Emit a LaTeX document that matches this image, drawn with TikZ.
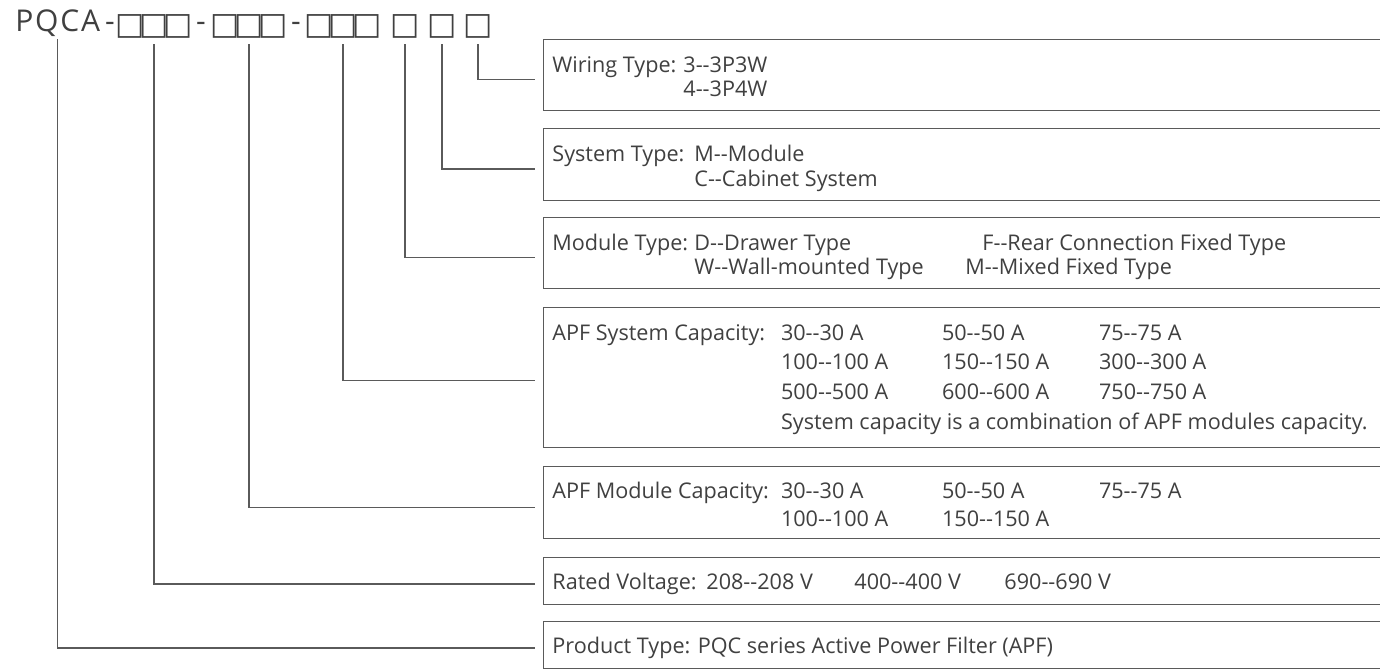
\documentclass[tikz,border=0pt]{standalone}
\usepackage{fontspec}
\setmainfont{Open Sans}
\newfontfamily\symfont{DejaVu Sans}
\usepackage{xcolor}
\usetikzlibrary{positioning,calc}
\definecolor{mygray}{RGB}{64,64,64}
\definecolor{linegray}{RGB}{90,90,90}
\newcommand{\dd}{-\kern0pt-}
\newcommand{\lab}[2]{\makebox[#1][l]{#2}}
\newcommand{\sq}{\makebox[10pt]{□}}
\tikzset{
  basic/.style  = {inner sep=0pt, text=mygray},
  title/.style  = {basic, anchor=base west,
                   font=\fontsize{15}{17}\selectfont\addfontfeatures{LetterSpace=6}},
  hyph/.style   = {basic, anchor=base, font=\fontsize{15}{17}\selectfont},
  digit/.style  = {basic, font=\symfont\fontsize{15.5}{15.5}\selectfont},
  info/.style   = {basic, anchor=base west, font=\fontsize{10.8}{11}\selectfont},
  frame/.style  = {draw=linegray, line width=0.6pt, rectangle, anchor=north west,
                   minimum width=440pt},
  wire/.style   = {draw=linegray, line width=0.65pt, shorten <=3pt, shorten >=8.5pt}
}

\begin{document}
\begin{tikzpicture}[x=0.5pt,y=-0.5pt]
  \path[use as bounding box, fill=white] (0,0) rectangle (1380,669);
  \clip (0,0) rectangle (1380,669);

  \node[title] (pqca) at (15,32) {PQCA};
  \node[hyph] (h1) at (110,32) {-};
  \node[hyph] (h2) at (201,32) {-};
  \node[hyph] (h3) at (296,32) {-};
  \foreach \x [count=\i] in {130,154,178,225,249,273,319,343,367,405,442,478}
    \node[digit] (d\i) at (\x,26) {\sq};

  \node[frame, minimum height=35.5pt]  (f1) at (543,39)    {};
  \node[frame, minimum height=36pt]    (f2) at (543,127.5) {};
  \node[frame, minimum height=35.6pt]  (f3) at (543,216.7) {};
  \node[frame, minimum height=69.75pt] (f4) at (543,307)   {};
  \node[frame, minimum height=36.25pt] (f5) at (543,465.5) {};
  \node[frame, minimum height=23.5pt]  (f6) at (543,557)   {};
  \node[frame, minimum height=23.5pt]  (f7) at (543,621)   {};

  \node[info] (wiring) at (552,72) {\begin{tabular}[t]{@{}l@{}}
    \lab{65.5pt}{Wiring Type:}3\dd3P3W\\[1pt]
    \lab{65.5pt}{}4\dd3P4W\end{tabular}};
  \node[info] (system) at (552,161.7) {\begin{tabular}[t]{@{}l@{}}
    \lab{71pt}{System Type:}M\dd Module\\[0.67pt]
    \lab{71pt}{}C\dd Cabinet System\end{tabular}};
  \node[info] (module) at (552,250) {\begin{tabular}[t]{@{}l@{}}
    \lab{71pt}{Module Type:}\lab{144pt}{D\dd Drawer Type}F\dd Rear Connection Fixed Type\\[0.67pt]
    \lab{71pt}{}\lab{135.5pt}{W\dd Wall-mounted Type}M\dd Mixed Fixed Type\end{tabular}};
  \node[info] (syscap) at (552,340) {\begin{tabular}[t]{@{}l@{}}
    \lab{114.3pt}{APF System Capacity:}\lab{80.5pt}{30\dd30 A}\lab{78.5pt}{50\dd50 A}75\dd75 A\\[3.7pt]
    \lab{114.3pt}{}\lab{80.5pt}{100\dd100 A}\lab{78.5pt}{150\dd150 A}300\dd300 A\\[3.7pt]
    \lab{114.3pt}{}\lab{80.5pt}{500\dd500 A}\lab{78.5pt}{600\dd600 A}750\dd750 A\\[3.7pt]
    \lab{114.3pt}{}System capacity is a combination of APF modules capacity.\end{tabular}};
  \node[info] (modcap) at (552,498.3) {\begin{tabular}[t]{@{}l@{}}
    \lab{114.3pt}{APF Module Capacity:}\lab{80.5pt}{30\dd30 A}\lab{78.5pt}{50\dd50 A}75\dd75 A\\[3.15pt]
    \lab{114.3pt}{}\lab{80.5pt}{100\dd100 A}150\dd150 A\end{tabular}};
  \node[info] (voltage) at (552,589) {\begin{tabular}[t]{@{}l@{}}
    \lab{77pt}{Rated Voltage:}\lab{74pt}{208\dd208 V}\lab{75pt}{400\dd400 V}690\dd690 V\end{tabular}};
  \node[info] (product) at (552,653) {\begin{tabular}[t]{@{}l@{}}
    Product Type: PQC series Active Power Filter (APF)\end{tabular}};

  \draw[wire, shorten <=1pt] (pqca) |- (product);
  \draw[wire] (d2)   |- (voltage);
  \draw[wire] (d5)   |- (modcap);
  \draw[wire] (d8)   |- (syscap);
  \draw[wire] (d10)  |- (module);
  \draw[wire] (d11)  |- (system);
  \draw[wire] (d12)  |- (wiring);
\end{tikzpicture}
\end{document}
